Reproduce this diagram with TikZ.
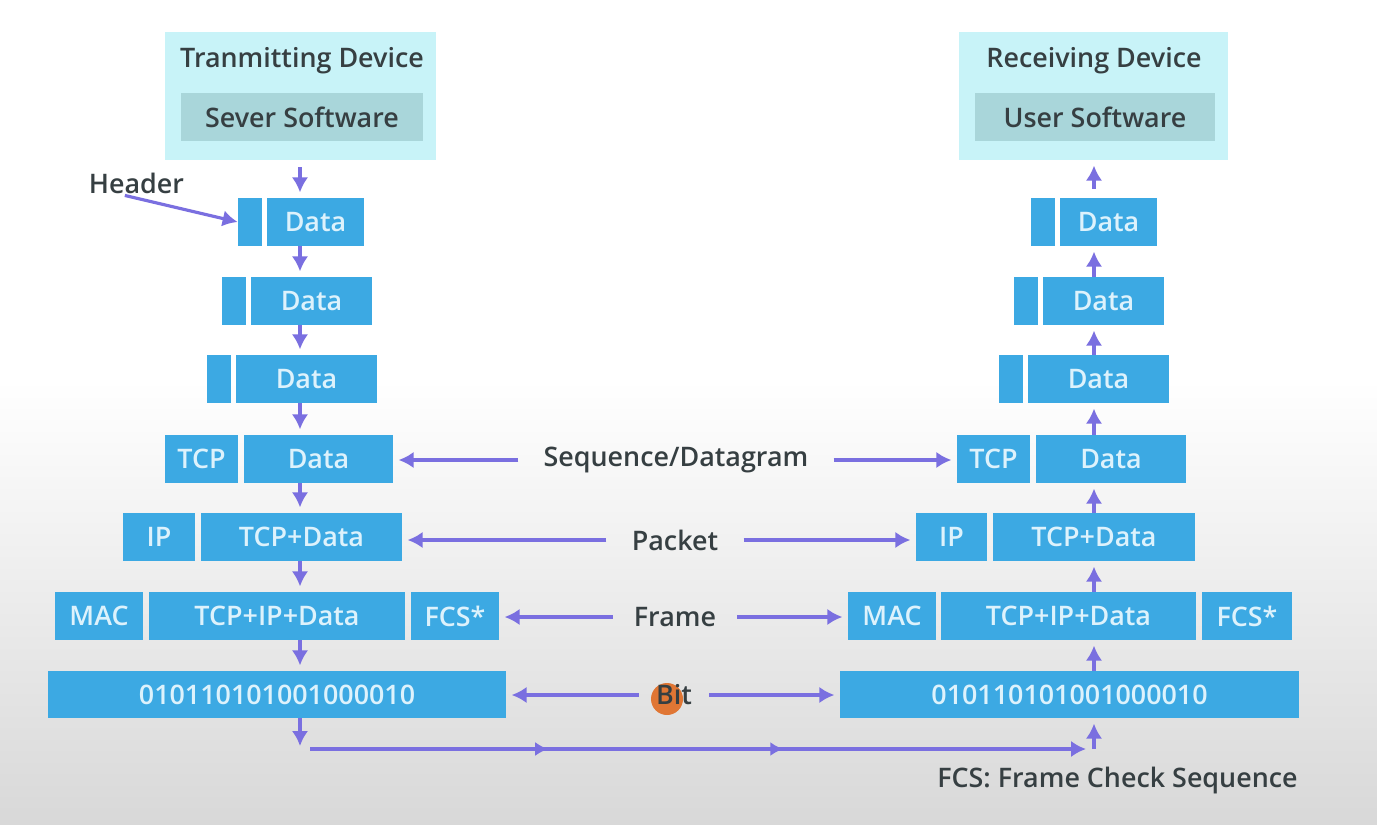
\documentclass[tikz,border=0pt]{standalone}
\usepackage{fontspec}
\setmainfont{Open Sans}[UprightFont={* Semibold}]
\usetikzlibrary{arrows.meta,decorations.markings}
\definecolor{bgray}{HTML}{D8D8D8}
\definecolor{devfill}{HTML}{C8F3F8}
\definecolor{swfill}{HTML}{A9D6DA}
\definecolor{dtext}{HTML}{363F42}
\definecolor{blu}{HTML}{3CA9E3}
\definecolor{btext}{HTML}{DDF2FC}
\definecolor{arrc}{HTML}{7A6FE0}
\definecolor{orng}{HTML}{E07634}
\tikzset{
  txt/.style={font=\fontsize{15.3}{18}\selectfont},
  blk/.style={txt, fill=blu, text=btext, inner sep=0pt},
  devbox/.style={fill=devfill, inner sep=0pt},
  swbox/.style={txt, fill=swfill, text=dtext, inner sep=0pt},
  lbl/.style={txt, text=dtext},
  arr/.style={draw=arrc, line width=2.1pt, -{Latex[length=0.3cm,width=0.33cm]}},
  darr/.style={arr, shorten >=3pt},
}
\newcommand\pbox[7]{\node[#1, minimum width={(#5-#3)*0.02cm}, minimum height={(#6-#4)*0.02cm}] (#2) at ({(#3+#5)/2},{(#4+#6)/2}) {#7};}
\begin{document}
\begin{tikzpicture}[x=0.02cm,y=-0.02cm]
\useasboundingbox (0,0) rectangle (1377,825);
\fill[white] (0,0) rectangle (1377,380);
\shade[top color=white, bottom color=bgray] (0,380) rectangle (1377,825);
\coordinate (cl) at (300,0);
\coordinate (cr) at (1094,0);
% devices
\pbox{devbox}{devL}{165}{32}{436}{160}{}
\pbox{swbox}{swL}{181}{93}{423}{141}{Sever Software}
\node[lbl] (tL) at (302,61) {Tranmitting Device};
\pbox{devbox}{devR}{959}{32}{1228}{160}{}
\pbox{swbox}{swR}{975}{93}{1215}{141}{User Software}
\node[lbl] (tR) at (1094,61) {Receiving Device};
% left column
\pbox{blk}{L1h}{238}{198}{262}{246}{}
\pbox{blk}{L1}{267}{198}{364}{246}{Data}
\pbox{blk}{L2h}{222}{277}{246}{325}{}
\pbox{blk}{L2}{251}{277}{372}{325}{Data}
\pbox{blk}{L3h}{207}{355}{231}{403}{}
\pbox{blk}{L3}{236}{355}{377}{403}{Data}
\pbox{blk}{L4h}{165}{435}{238}{483}{TCP}
\pbox{blk}{L4}{244}{435}{393}{483}{Data}
\pbox{blk}{L5h}{123}{513}{195}{561}{IP}
\pbox{blk}{L5}{201}{513}{402}{561}{TCP+Data}
\pbox{blk}{L6h}{55}{592}{143}{640}{MAC}
\pbox{blk}{L6}{149}{592}{405}{640}{TCP+IP+Data}
\pbox{blk}{L6t}{411}{592}{499}{640}{FCS*}
\pbox{blk}{L7}{48}{671}{506}{718}{010110101001000010}
% right column
\pbox{blk}{R1h}{1031}{198}{1055}{246}{}
\pbox{blk}{R1}{1060}{198}{1157}{246}{Data}
\pbox{blk}{R2h}{1014}{277}{1038}{325}{}
\pbox{blk}{R2}{1043}{277}{1164}{325}{Data}
\pbox{blk}{R3h}{999}{355}{1023}{403}{}
\pbox{blk}{R3}{1028}{355}{1169}{403}{Data}
\pbox{blk}{R4h}{957}{435}{1030}{483}{TCP}
\pbox{blk}{R4}{1036}{435}{1186}{483}{Data}
\pbox{blk}{R5h}{916}{513}{987}{561}{IP}
\pbox{blk}{R5}{993}{513}{1195}{561}{TCP+Data}
\pbox{blk}{R6h}{848}{592}{936}{640}{MAC}
\pbox{blk}{R6}{941}{592}{1196}{640}{TCP+IP+Data}
\pbox{blk}{R6t}{1202}{592}{1292}{640}{FCS*}
\pbox{blk}{R7}{840}{671}{1299}{718}{010110101001000010}
% vertical arrows left (down)
\draw[darr, shorten <=4pt] (devL.south -| cl) -- (L1.north -| cl);
\draw[darr] (L1.south -| cl) -- (L2.north -| cl);
\draw[darr] (L2.south -| cl) -- (L3.north -| cl);
\draw[darr] (L3.south -| cl) -- (L4.north -| cl);
\draw[darr] (L4.south -| cl) -- (L5.north -| cl);
\draw[darr] (L5.south -| cl) -- (L6.north -| cl);
\draw[darr] (L6.south -| cl) -- (L7.north -| cl);
% vertical arrows right (up)
\draw[darr, shorten <=5pt] (R1.north -| cr) -- (devR.south -| cr);
\draw[darr] (R2.north -| cr) -- (R1.south -| cr);
\draw[darr] (R3.north -| cr) -- (R2.south -| cr);
\draw[darr] (R4.north -| cr) -- (R3.south -| cr);
\draw[darr] (R5.north -| cr) -- (R4.south -| cr);
\draw[darr] (R6.north -| cr) -- (R5.south -| cr);
\draw[darr] (R7.north -| cr) -- (R6.south -| cr);
% bottom route
\coordinate (bl) at (300,746);
\coordinate (bs) at (310,749);
\coordinate (be) at (1086,749);
\coordinate (bu) at (1094,749);
\draw[arr] (L7.south -| cl) -- (bl);
\draw[arr, postaction={decorate}, decoration={markings,
  mark=at position 0.307 with {\arrow{Latex[length=0.26cm,width=0.28cm]}},
  mark=at position 0.61 with {\arrow{Latex[length=0.26cm,width=0.28cm]}}}] (bs) -- (be);
\draw[darr] (bu) -- (R7.south -| cr);
% header label
\node[lbl, inner sep=1pt] (hdr) at (136.5,183) {Header};
\draw[arr, line width=1.8pt] (hdr.south west) ++(38,0) coordinate (hs) -- (L1h.west);
% middle labels
\node[lbl, inner xsep=0.5cm] (lseq) at (676,460) {Sequence/Datagram};
\draw[darr] (lseq.west) -- (lseq.west -| L4.east);
\draw[darr] (lseq.east) -- (lseq.east -| R4h.west);
\node[lbl, inner xsep=0.5cm] (lpk) at (675,540) {Packet};
\draw[darr] (lpk.west) -- (lpk.west -| L5.east);
\draw[darr] (lpk.east) -- (lpk.east -| R5h.west);
\node[lbl, inner xsep=0.42cm] (lfr) at (675,617) {Frame};
\draw[darr] (lfr.west) -- (lfr.west -| L6t.east);
\draw[darr] (lfr.east) -- (lfr.east -| R6h.west);
\fill[orng] (667,699) circle (16);
\node[lbl, inner xsep=0.34cm] (lbit) at (674,695) {Bit};
\draw[darr] (lbit.west) -- (lbit.west -| L7.east);
\draw[darr] (lbit.east) -- (lbit.east -| R7.west);
% footnote
\node[lbl] (fcs) at (1117.5,781) {FCS: Frame Check Sequence};
\end{tikzpicture}
\end{document}
